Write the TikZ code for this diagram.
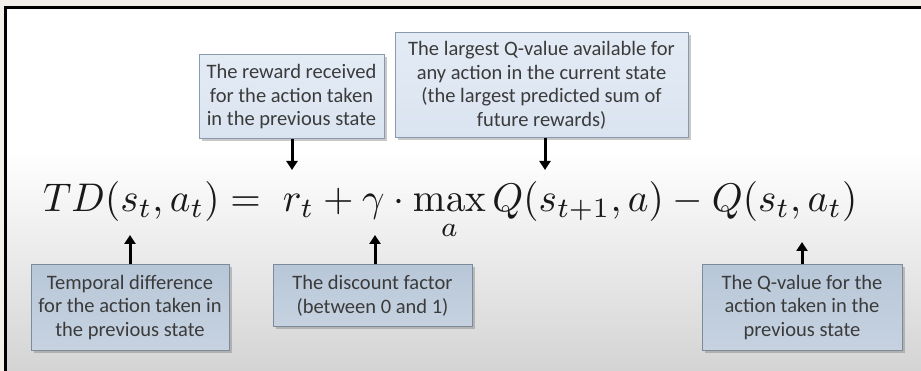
\documentclass[tikz,border=0pt]{standalone}
\usepackage[no-math]{fontspec}
\setmainfont{Carlito}
\usetikzlibrary{arrows.meta,shadows}
\definecolor{outerbg}{HTML}{F3F0EB}
\definecolor{bgbot}{HTML}{D4D4D4}
\definecolor{topfill}{HTML}{DAE4F0}
\definecolor{topfilltop}{HTML}{E3EBF5}
\definecolor{topedge}{HTML}{8A9AAE}
\definecolor{botfill}{HTML}{B8C7D8}
\definecolor{botfillb}{HTML}{C6D2E0}
\definecolor{botedge}{HTML}{7D8A99}
\definecolor{txt}{HTML}{3B3B3B}
\tikzset{
 note/.style={draw, line width=1pt, align=center, inner sep=0pt, text=txt,
   font=\fontsize{20.5}{23.5}\selectfont,
   drop shadow={shadow xshift=2.5pt, shadow yshift=-2.5pt, opacity=0.35, fill=black!60}},
 topnote/.style={note, draw=topedge, top color=topfilltop, bottom color=topfill},
 botnote/.style={note, draw=botedge, top color=botfill, bottom color=botfillb},
 ptr/.style={line width=3pt, -{Triangle[width=11pt,length=9pt]}, black}
}
\begin{document}
\begin{tikzpicture}[x=1pt,y=-1pt]
\useasboundingbox (0,0) rectangle (921,371);
\fill[outerbg] (0,0) rectangle (921,371);
\fill[white] (4,7) rectangle (921,371);
\shade[top color=white,bottom color=bgbot] (4,150) rectangle (921,371);
\draw[line width=3pt] (5.5,371) -- (5.5,8) -- (921,8);

\node[anchor=base west, inner sep=0pt, text=black!90] (eq) at (43,212)
  {\resizebox{814pt}{30pt}{$\displaystyle TD(s_t, a_t) =\; r_t + \gamma \cdot \max_a Q(s_{t+1}, a) - Q(s_t, a_t)$}};

\node[topnote, minimum width=185pt, minimum height=84pt] (rew) at (291.5,97)
  {The reward received\\for the action taken\\in the previous state};
\node[topnote, minimum width=293pt, minimum height=105pt] (qmax) at (541.5,85.5)
  {The largest Q-value available for\\any action in the current state\\(the largest predicted sum of\\future rewards)};
\node[botnote, minimum width=198pt, minimum height=85pt] (temp) at (130,307.5)
  {Temporal difference\\for the action taken in\\the previous state};
\node[botnote, minimum width=199pt, minimum height=62pt] (disc) at (372.5,296)
  {The discount factor\\(between 0 and 1)};
\node[botnote, minimum width=200pt, minimum height=85pt] (qval) at (802,307.5)
  {The Q-value for the\\action taken in the\\previous state};

\coordinate (rewtip) at (292,170);
\coordinate (qmaxtip) at (545,170);
\coordinate (temptip) at (130,235);
\coordinate (disctip) at (375,235);
\coordinate (qvaltip) at (802,242);
\draw[ptr] (rew.south -| rewtip) -- (rewtip);
\draw[ptr] (qmax.south -| qmaxtip) -- (qmaxtip);
\draw[ptr] (temp.north -| temptip) -- (temptip);
\draw[ptr] (disc.north -| disctip) -- (disctip);
\draw[ptr] (qval.north -| qvaltip) -- (qvaltip);
\end{tikzpicture}
\end{document}
